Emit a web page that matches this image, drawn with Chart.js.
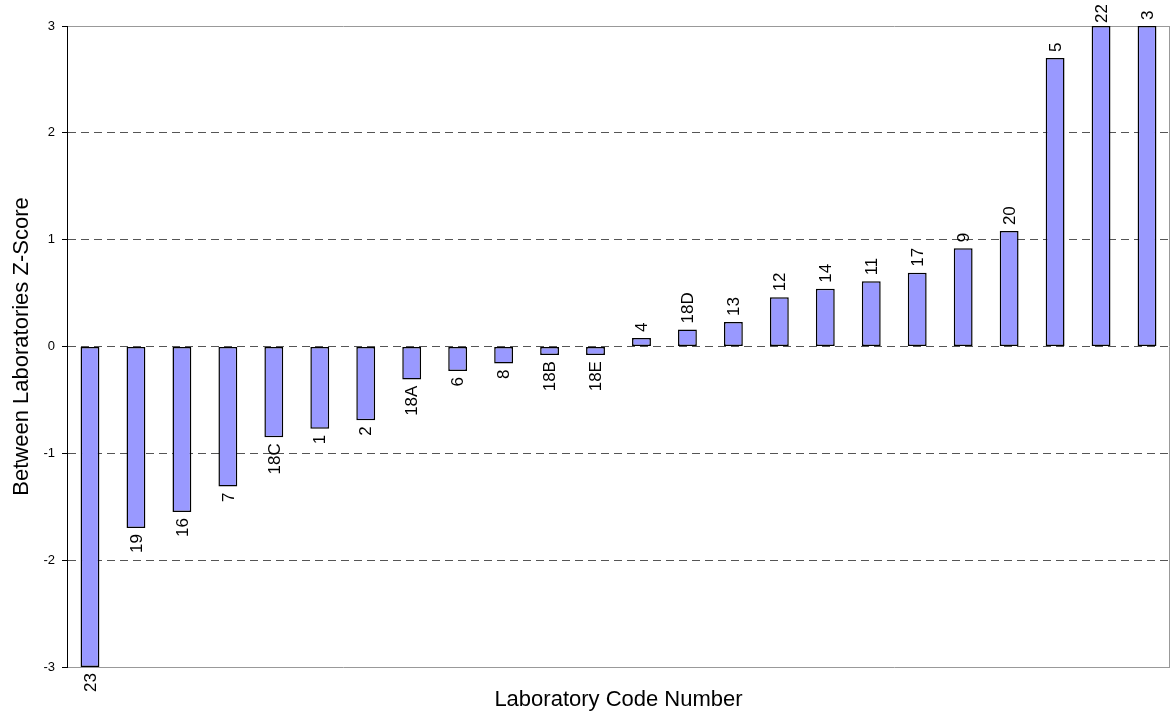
<!DOCTYPE html>
<html>
<head>
<meta charset="utf-8">
<script src="https://cdn.jsdelivr.net/npm/chart.js@4/dist/chart.umd.min.js"></script>
<style>
  html, body { margin: 0; padding: 0; background: #fff; }
  #wrap { width: 1171px; height: 717px; }
</style>
</head>
<body>
<div id="wrap"><canvas id="zchart"></canvas></div>
<script>
// lab codes, sorted by z-score
const labCodes = ['23', '19', '16', '7', '18C', '1', '2', '18A', '6', '8', '18B', '18E',
  '4', '18D', '13', '12', '14', '11', '17', '9', '20', '5', '22', '3'];
const zScores = [-3.0, -1.70, -1.55, -1.31, -0.85, -0.77, -0.69, -0.31, -0.23, -0.16, -0.08, -0.08,
  0.08, 0.16, 0.23, 0.46, 0.54, 0.61, 0.69, 0.92, 1.08, 2.70, 3.0, 3.0];
const yTicks = [-3, -2, -1, 0, 1, 2, 3];

const FONT = "'Liberation Sans', Arial, sans-serif";

// bar labels, rotated, just past the end of each bar
const barLabels = {
  id: 'barLabels',
  afterDatasetsDraw(chart) {
    const ctx = chart.ctx;
    const meta = chart.getDatasetMeta(0);
    ctx.save();
    ctx.font = '17px ' + FONT;
    ctx.fillStyle = '#000';
    ctx.textBaseline = 'middle';
    meta.data.forEach((bar, i) => {
      const label = labCodes[i];
      const w = ctx.measureText(label).width;
      ctx.save();
      if (zScores[i] >= 0) {
        let start = bar.y - 6;
        if (start - w < 4) start = w + 4;
        ctx.translate(bar.x, start);
        ctx.rotate(-Math.PI / 2);
        ctx.textAlign = 'left';
      } else {
        ctx.translate(bar.x, bar.y + 6);
        ctx.rotate(-Math.PI / 2);
        ctx.textAlign = 'right';
      }
      ctx.fillText(label, 0, 1);
      ctx.restore();
    });
    ctx.restore();
  }
};

// right edge of the plot frame
const frameRight = {
  id: 'frameRight',
  beforeDatasetsDraw(chart) {
    const a = chart.chartArea;
    const ctx = chart.ctx;
    ctx.save();
    ctx.strokeStyle = '#999';
    ctx.lineWidth = 1;
    ctx.beginPath();
    ctx.moveTo(a.right - 0.5, a.top);
    ctx.lineTo(a.right - 0.5, a.bottom);
    ctx.stroke();
    ctx.restore();
  }
};

new Chart(document.getElementById('zchart'), {
  type: 'bar',
  data: {
    labels: labCodes,
    datasets: [{
      data: zScores,
      backgroundColor: '#9999ff',
      borderColor: '#000',
      borderWidth: 1.5,
      borderSkipped: false,
      barPercentage: 0.41,
      categoryPercentage: 1.0
    }]
  },
  options: {
    responsive: true,
    maintainAspectRatio: false,
    animation: false,
    layout: { padding: { top: 26, right: 1, left: 0, bottom: 0 } },
    plugins: {
      legend: { display: false },
      tooltip: { enabled: false }
    },
    scales: {
      x: {
        grid: { display: false },
        border: { display: false },
        ticks: { display: false },
        title: {
          display: true,
          text: 'Laboratory Code Number',
          color: '#000',
          font: { family: FONT, size: 22 },
          padding: { top: 0, bottom: 4 }
        },
        afterFit(scale) { scale.height = 50; }
      },
      y: {
        min: yTicks[0],
        max: yTicks[yTicks.length - 1],
        afterBuildTicks(scale) {
          scale.ticks = yTicks.map(v => ({ value: v }));
        },
        ticks: {
          color: '#000',
          padding: 7,
          font: { family: FONT, size: 13 },
          callback: v => String(v)
        },
        grid: {
          color: ctx => (ctx.tick && Math.abs(ctx.tick.value) === 3) ? '#999' : '#555',
          lineWidth: 1,
          tickColor: '#000',
          tickLength: 5,
          tickBorderDash: [],
          tickWidth: 1
        },
        border: {
          display: true,
          color: '#000',
          width: 1,
          dash: ctx => (ctx.tick && Math.abs(ctx.tick.value) < 3) ? [8, 5] : []
        },
        title: {
          display: true,
          text: 'Between Laboratories Z-Score',
          color: '#000',
          font: { family: FONT, size: 22 },
          padding: { top: 9, bottom: 0 }
        },
        afterFit(scale) { scale.width = 67; }
      }
    }
  },
  plugins: [frameRight, barLabels]
});
</script>
</body>
</html>
